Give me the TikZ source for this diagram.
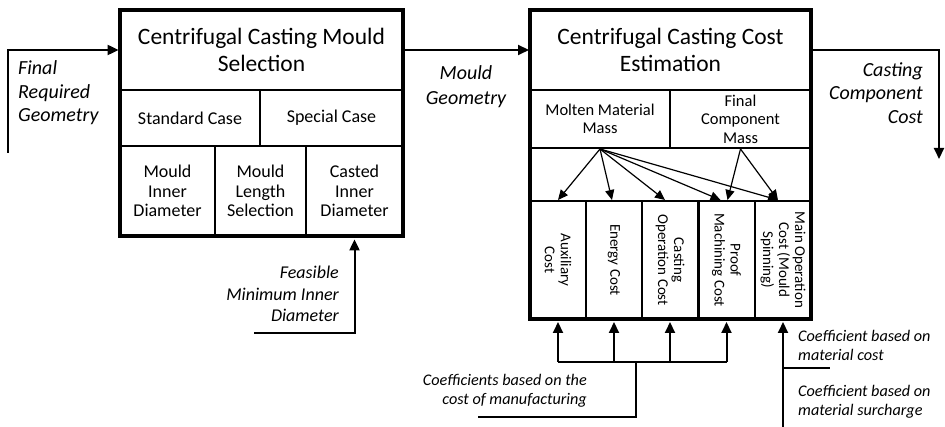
\documentclass[tikz,border=0pt]{standalone}
\usepackage{fontspec}
\setmainfont{Carlito}
\usetikzlibrary{arrows.meta,calc}
\begin{document}
\begin{tikzpicture}[x=1pt,y=-1pt,
  cellL/.style={draw,line width=2.8pt,inner sep=0pt,align=center,font=\fontsize{18}{19.5}\selectfont},
  cellR/.style={draw,line width=2pt,inner sep=0pt,align=center,font=\fontsize{16.5}{18.5}\selectfont},
  frame/.style={draw,line width=4pt},
  title/.style={font=\fontsize{23.5}{27}\selectfont},
  col/.style={cellR,minimum width=56pt,minimum height=118pt},
  coltext/.style={rotate=-90,align=center,font=\fontsize{15}{16}\selectfont,inner sep=0pt},
  lab/.style={font=\fontsize{20}{23.5}\selectfont\itshape,inner sep=0pt},
  slab/.style={font=\fontsize{16.2}{19}\selectfont\itshape,inner sep=0pt,align=left},
  conn/.style={line width=2pt,-{Triangle[length=11pt,width=10pt]}},
  wire/.style={line width=2pt},
  thin/.style={line width=1.2pt,-{Triangle[length=10pt,width=9pt]}}
]
\useasboundingbox (0,0) rectangle (945,427);
% ---------- left box ----------
\node[cellL,title,minimum width=283pt,minimum height=80pt] (lt) at (261.5,50) {Centrifugal Casting Mould\\Selection};
\node[cellL,minimum width=140pt,minimum height=56pt] (std) at (190,118) {Standard Case};
\node[cellL,minimum width=143pt,minimum height=56pt] (spc) at (331.5,118) {Special Case};
\node[cellL,minimum width=95pt,minimum height=90pt] (mid) at (167.5,191) {Mould\\Inner\\Diameter};
\node[cellL,minimum width=91pt,minimum height=90pt] (mls) at (260.5,191) {Mould\\Length\\Selection};
\node[cellL,minimum width=97pt,minimum height=90pt] (cid) at (354.5,191) {Casted\\Inner\\Diameter};
\draw[frame] (120,10) rectangle (403,236);
% ---------- right box ----------
\node[cellR,title,minimum width=281pt,minimum height=80pt] (rt) at (670.5,50) {Centrifugal Casting Cost\\Estimation};
\node[cellR,minimum width=140pt,minimum height=58pt] (mm) at (600,119) {Molten Material\\Mass};
\node[cellR,minimum width=141pt,minimum height=58pt] (fc) at (740.5,119) {Final\\Component\\Mass};
\node[cellR,minimum width=281pt,minimum height=53pt] (ar) at (670.5,174.5) {};
\node[col] (c1) at (558,260) {};
\node[col] (c2) at (614,260) {};
\node[col] (c3) at (670,260) {};
\node[col] (c4) at (726.5,260) {};
\node[col] (c5) at (783,260) {};
\node[coltext] at (c1) {Auxiliary\\Cost};
\node[coltext] at (c2) {Energy Cost};
\node[coltext] at (c3) {Casting\\Operation Cost};
\node[coltext] at (c4) {Proof\\Machining Cost};
\node[coltext] at (c5) {Main Operation\\Cost (Mould\\Spinning)};
\draw[frame] (530,10) rectangle (811,319);
% inner arrows
\draw[thin] (mm.south) -- (c1.north);
\draw[thin] (mm.south) -- ([xshift=-2pt]c2.north);
\draw[thin] (mm.south) -- ([xshift=-5pt]c3.north);
\draw[thin] (mm.south) -- ([xshift=-6pt]c4.north);
\draw[thin] (mm.south) -- ([xshift=-5pt]c5.north);
\draw[thin] (fc.south) -- ([xshift=1pt]c4.north);
\draw[thin] (fc.south) -- ([xshift=-5pt]c5.north);
% ---------- connectors ----------
\coordinate (in0) at (8,153);
\draw[conn] (in0) |- (lt.west);
\draw[conn] (lt.east) -- (rt.west);
\coordinate (out1) at (939,159);
\draw[conn] (rt.east) -| (out1);
\coordinate (feas) at (254,333);
\draw[conn] (feas) -| ([yshift=-2pt]cid.south);
\coordinate (bus) at (636,362);
\coordinate (mfg) at (478,417);
\draw[wire] (mfg) -| (bus);
\draw[wire] (c1.south|-bus) -- (c4.south|-bus);
\foreach \c in {c1,c2,c3,c4}{\draw[conn] (\c.south|-bus) -- ([yshift=-2pt]\c.south);}
\coordinate (mainbot) at (783,427);
\coordinate (br) at (830,368);
\draw[conn] (mainbot) -- ([yshift=-2pt]c5.south);
\draw[line width=1.5pt] (c5.south|-br) -- (br);
% ---------- labels ----------
\node[lab,anchor=west,align=left] (lfrg) at (18,93) {Final\\Required\\Geometry};
\node[lab,align=center,font=\fontsize{20}{25}\selectfont\itshape] (lmg) at (466,87) {Mould\\Geometry};
\node[lab,anchor=east,align=right] (lccc) at (923,93) {Casting\\Component\\Cost};
\node[lab,anchor=east,align=right,font=\fontsize{18}{21.5}\selectfont\itshape] (lfmi) at (339,294) {Feasible\\Minimum Inner\\Diameter};
\node[slab,anchor=east,align=right] (lcm) at (587,390.5) {Coefficients based on the\\cost of manufacturing};
\node[slab,anchor=west] (lmc) at (798,345.5) {Coefficient based on\\material cost};
\node[slab,anchor=west] (lms) at (798,402) {Coefficient based on\\material surcharge};
\end{tikzpicture}
\end{document}
